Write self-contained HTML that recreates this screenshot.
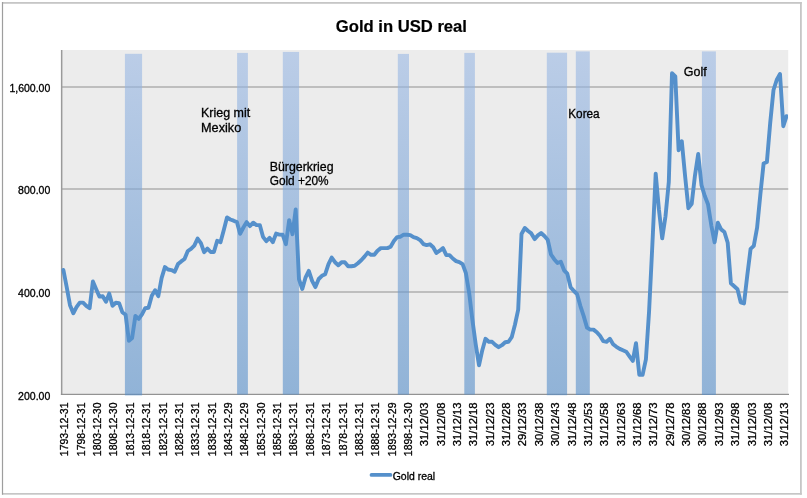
<!DOCTYPE html>
<html lang="de">
<head>
<meta charset="utf-8">
<title>Gold in USD real</title>
<style>
html,body{margin:0;padding:0;background:#fff;}
body{width:807px;height:498px;overflow:hidden;}
svg{display:block;}
text{font-family:"Liberation Sans",sans-serif;fill:#000;stroke:#000;stroke-width:0.3px;}
.ax{font-size:10.5px;}
.an{font-size:12.5px;}
.tt{font-size:17px;font-weight:bold;stroke-width:0.2px;}
</style>
</head>
<body>
<svg width="807" height="498" viewBox="0 0 807 498">
<defs>
<linearGradient id="bg" x1="0" y1="0" x2="0" y2="1">
<stop offset="0" stop-color="rgb(154,184,228)"/>
<stop offset="1" stop-color="rgb(84,141,201)"/>
</linearGradient>
<clipPath id="pc"><rect x="55" y="40" width="733.1" height="360"/></clipPath>
</defs>
<rect x="0" y="0" width="807" height="498" fill="#fff"/>
<!-- chart frame -->
<rect x="2" y="2" width="799.8" height="1.8" fill="#c6c6c6"/>
<rect x="2" y="493" width="799.8" height="1.7" fill="#c6c6c6"/>
<rect x="800" y="2" width="1.8" height="492.7" fill="#c6c6c6"/>
<rect x="1.9" y="2" width="1.2" height="492.7" fill="#9e9e9e"/>
<!-- plot area -->
<rect x="61.8" y="50" width="726.4" height="344" fill="#ececec"/>
<rect x="61.8" y="86" width="726.4" height="2" fill="#bebebe"/>
<rect x="61.8" y="188" width="726.4" height="2" fill="#bebebe"/>
<rect x="61.8" y="291" width="726.4" height="2" fill="#bebebe"/>
<rect x="60.9" y="50" width="1.5" height="344.9" fill="#9a9a9a"/>
<rect x="60.9" y="393.8" width="728.1" height="1.15" fill="#8e8e8e"/>
<rect x="124.9" y="53.8" width="17.2" height="341.6" fill="url(#bg)" fill-opacity="0.6"/>
<rect x="237.1" y="52.9" width="10.8" height="341.7" fill="url(#bg)" fill-opacity="0.6"/>
<rect x="282.8" y="51.9" width="16.3" height="342.7" fill="url(#bg)" fill-opacity="0.6"/>
<rect x="397.8" y="53.9" width="11.2" height="340.7" fill="url(#bg)" fill-opacity="0.6"/>
<rect x="464.3" y="52.9" width="10.6" height="341.7" fill="url(#bg)" fill-opacity="0.6"/>
<rect x="546.8" y="52.7" width="20.3" height="342.5" fill="url(#bg)" fill-opacity="0.6"/>
<rect x="575.8" y="51.4" width="14.0" height="343.6" fill="url(#bg)" fill-opacity="0.6"/>
<rect x="701.9" y="51.4" width="14.0" height="343.6" fill="url(#bg)" fill-opacity="0.6"/>
<polyline clip-path="url(#pc)" fill="none" stroke="#5590cb" stroke-width="3.9" stroke-linejoin="round" stroke-linecap="round" points="63.4,270.0 66.7,287.1 70.0,305.2 73.3,313.3 76.5,307.2 79.8,302.6 83.1,302.6 86.3,305.8 89.6,308.2 92.9,281.5 96.2,289.2 99.4,296.6 102.7,296.2 106.0,301.8 109.2,293.6 112.5,305.8 115.8,302.8 119.1,303.2 122.3,312.2 125.6,314.7 128.9,340.8 132.1,338.0 135.4,315.9 138.7,318.9 142.0,314.3 145.2,308.2 148.5,307.8 151.8,295.8 155.1,290.2 158.3,296.2 161.6,278.1 164.9,267.1 168.1,269.5 171.4,270.1 174.7,271.7 178.0,264.1 181.2,261.4 184.5,259.0 187.8,251.0 191.0,248.8 194.3,245.6 197.6,238.6 200.9,243.2 204.1,252.2 207.4,248.6 210.7,252.0 213.9,252.0 217.2,240.8 220.5,242.2 223.8,230.1 227.0,217.5 230.3,219.5 233.6,220.7 236.9,222.1 240.1,233.8 243.4,227.5 246.7,222.1 249.9,226.1 253.2,222.7 256.5,225.1 259.8,225.1 263.0,236.8 266.3,241.2 269.6,237.8 272.8,242.2 276.1,233.6 279.4,234.6 282.7,234.8 285.9,244.2 289.2,220.1 292.5,234.2 295.7,209.5 299.0,279.3 302.3,289.0 305.6,277.3 308.8,270.9 312.1,280.8 315.4,287.1 318.7,279.0 321.9,275.8 325.2,274.2 328.5,264.2 331.7,257.6 335.0,262.2 338.3,265.2 341.6,262.2 344.8,262.2 348.1,266.2 351.4,266.2 354.6,265.8 357.9,263.2 361.2,260.2 364.5,256.6 367.7,252.6 371.0,254.8 374.3,254.8 377.5,250.7 380.8,248.1 384.1,248.1 387.4,248.1 390.6,246.7 393.9,241.1 397.2,237.1 400.5,236.7 403.7,234.7 407.0,234.7 410.3,235.1 413.5,237.1 416.8,238.1 420.1,240.1 423.4,244.1 426.6,245.1 429.9,244.3 433.2,247.3 436.4,253.0 439.7,250.7 443.0,248.1 446.3,255.1 449.5,255.1 452.8,258.5 456.1,261.1 459.3,262.1 462.6,264.2 465.9,273.2 469.2,293.3 472.4,320.1 475.7,344.2 479.0,365.3 482.3,350.2 485.5,338.8 488.8,341.8 492.1,341.8 495.3,344.8 498.6,347.2 501.9,345.2 505.2,342.2 508.4,341.8 511.7,337.2 515.0,324.5 518.2,309.7 521.5,234.0 524.8,228.0 528.1,231.0 531.3,233.4 534.6,239.1 537.9,235.4 541.1,233.0 544.4,236.0 547.7,239.8 551.0,254.5 554.2,259.2 557.5,263.0 560.8,261.7 564.1,270.3 567.3,273.7 570.6,287.2 573.9,291.0 577.1,294.2 580.4,306.1 583.7,316.1 587.0,327.6 590.2,329.6 593.5,329.6 596.8,332.2 600.0,335.8 603.3,341.2 606.6,341.8 609.9,338.8 613.1,344.2 616.4,346.8 619.7,348.9 622.9,350.3 626.2,351.7 629.5,356.3 632.8,360.9 636.0,343.2 639.3,374.8 642.6,374.8 645.9,359.3 649.1,311.0 652.4,244.0 655.7,173.7 658.9,209.2 662.2,238.4 665.5,216.3 668.8,182.0 672.0,73.2 675.3,76.3 678.6,150.2 681.8,141.3 685.1,176.1 688.4,208.2 691.7,203.8 694.9,176.0 698.2,154.0 701.5,185.1 704.7,195.8 708.0,204.2 711.3,225.3 714.6,242.3 717.8,222.6 721.1,229.4 724.4,232.0 727.7,242.8 730.9,283.3 734.2,286.3 737.5,289.3 740.7,302.3 744.0,303.4 747.3,275.2 750.6,248.8 753.8,245.8 757.1,227.7 760.4,194.0 763.6,163.5 766.9,162.0 770.2,123.0 773.5,90.0 776.7,80.0 780.0,74.0 783.3,126.2 786.5,116.2"/>
<text class="tt" x="335.8" y="31.7" textLength="131.2" lengthAdjust="spacingAndGlyphs">Gold in USD real</text>
<text class="ax" x="9.4" y="91.6" textLength="40.9" lengthAdjust="spacingAndGlyphs">1,600.00</text>
<text class="ax" x="18.1" y="193.8" textLength="32.2" lengthAdjust="spacingAndGlyphs">800.00</text>
<text class="ax" x="18.1" y="296.8" textLength="32.2" lengthAdjust="spacingAndGlyphs">400.00</text>
<text class="ax" x="18.1" y="399.6" textLength="32.2" lengthAdjust="spacingAndGlyphs">200.00</text>
<text class="ax" transform="translate(68.3,456.2) rotate(-90)" textLength="53.7" lengthAdjust="spacingAndGlyphs">1793-12-31</text>
<text class="ax" transform="translate(84.7,456.2) rotate(-90)" textLength="53.7" lengthAdjust="spacingAndGlyphs">1798-12-31</text>
<text class="ax" transform="translate(101.1,456.2) rotate(-90)" textLength="53.7" lengthAdjust="spacingAndGlyphs">1803-12-30</text>
<text class="ax" transform="translate(117.4,456.2) rotate(-90)" textLength="53.7" lengthAdjust="spacingAndGlyphs">1808-12-30</text>
<text class="ax" transform="translate(133.8,456.2) rotate(-90)" textLength="53.7" lengthAdjust="spacingAndGlyphs">1813-12-31</text>
<text class="ax" transform="translate(150.1,456.2) rotate(-90)" textLength="53.7" lengthAdjust="spacingAndGlyphs">1818-12-31</text>
<text class="ax" transform="translate(166.5,456.2) rotate(-90)" textLength="53.7" lengthAdjust="spacingAndGlyphs">1823-12-31</text>
<text class="ax" transform="translate(182.9,456.2) rotate(-90)" textLength="53.7" lengthAdjust="spacingAndGlyphs">1828-12-31</text>
<text class="ax" transform="translate(199.2,456.2) rotate(-90)" textLength="53.7" lengthAdjust="spacingAndGlyphs">1833-12-31</text>
<text class="ax" transform="translate(215.6,456.2) rotate(-90)" textLength="53.7" lengthAdjust="spacingAndGlyphs">1838-12-31</text>
<text class="ax" transform="translate(231.9,456.2) rotate(-90)" textLength="53.7" lengthAdjust="spacingAndGlyphs">1843-12-29</text>
<text class="ax" transform="translate(248.3,456.2) rotate(-90)" textLength="53.7" lengthAdjust="spacingAndGlyphs">1848-12-29</text>
<text class="ax" transform="translate(264.7,456.2) rotate(-90)" textLength="53.7" lengthAdjust="spacingAndGlyphs">1853-12-30</text>
<text class="ax" transform="translate(281.0,456.2) rotate(-90)" textLength="53.7" lengthAdjust="spacingAndGlyphs">1858-12-31</text>
<text class="ax" transform="translate(297.4,456.2) rotate(-90)" textLength="53.7" lengthAdjust="spacingAndGlyphs">1863-12-31</text>
<text class="ax" transform="translate(313.7,456.2) rotate(-90)" textLength="53.7" lengthAdjust="spacingAndGlyphs">1868-12-31</text>
<text class="ax" transform="translate(330.1,456.2) rotate(-90)" textLength="53.7" lengthAdjust="spacingAndGlyphs">1873-12-31</text>
<text class="ax" transform="translate(346.5,456.2) rotate(-90)" textLength="53.7" lengthAdjust="spacingAndGlyphs">1878-12-31</text>
<text class="ax" transform="translate(362.8,456.2) rotate(-90)" textLength="53.7" lengthAdjust="spacingAndGlyphs">1883-12-31</text>
<text class="ax" transform="translate(379.2,456.2) rotate(-90)" textLength="53.7" lengthAdjust="spacingAndGlyphs">1888-12-31</text>
<text class="ax" transform="translate(395.5,456.2) rotate(-90)" textLength="53.7" lengthAdjust="spacingAndGlyphs">1893-12-29</text>
<text class="ax" transform="translate(411.9,456.2) rotate(-90)" textLength="53.7" lengthAdjust="spacingAndGlyphs">1898-12-30</text>
<text class="ax" transform="translate(428.3,446.2) rotate(-90)" textLength="43.7" lengthAdjust="spacingAndGlyphs">31/12/03</text>
<text class="ax" transform="translate(444.6,446.2) rotate(-90)" textLength="43.7" lengthAdjust="spacingAndGlyphs">31/12/08</text>
<text class="ax" transform="translate(461.0,446.2) rotate(-90)" textLength="43.7" lengthAdjust="spacingAndGlyphs">31/12/13</text>
<text class="ax" transform="translate(477.3,446.2) rotate(-90)" textLength="43.7" lengthAdjust="spacingAndGlyphs">31/12/18</text>
<text class="ax" transform="translate(493.7,446.2) rotate(-90)" textLength="43.7" lengthAdjust="spacingAndGlyphs">31/12/23</text>
<text class="ax" transform="translate(510.1,446.2) rotate(-90)" textLength="43.7" lengthAdjust="spacingAndGlyphs">31/12/28</text>
<text class="ax" transform="translate(526.4,446.2) rotate(-90)" textLength="43.7" lengthAdjust="spacingAndGlyphs">29/12/33</text>
<text class="ax" transform="translate(542.8,446.2) rotate(-90)" textLength="43.7" lengthAdjust="spacingAndGlyphs">30/12/38</text>
<text class="ax" transform="translate(559.1,446.2) rotate(-90)" textLength="43.7" lengthAdjust="spacingAndGlyphs">30/12/43</text>
<text class="ax" transform="translate(575.5,446.2) rotate(-90)" textLength="43.7" lengthAdjust="spacingAndGlyphs">31/12/48</text>
<text class="ax" transform="translate(591.9,446.2) rotate(-90)" textLength="43.7" lengthAdjust="spacingAndGlyphs">31/12/53</text>
<text class="ax" transform="translate(608.2,446.2) rotate(-90)" textLength="43.7" lengthAdjust="spacingAndGlyphs">31/12/58</text>
<text class="ax" transform="translate(624.6,446.2) rotate(-90)" textLength="43.7" lengthAdjust="spacingAndGlyphs">31/12/63</text>
<text class="ax" transform="translate(640.9,446.2) rotate(-90)" textLength="43.7" lengthAdjust="spacingAndGlyphs">31/12/68</text>
<text class="ax" transform="translate(657.3,446.2) rotate(-90)" textLength="43.7" lengthAdjust="spacingAndGlyphs">31/12/73</text>
<text class="ax" transform="translate(673.7,446.2) rotate(-90)" textLength="43.7" lengthAdjust="spacingAndGlyphs">29/12/78</text>
<text class="ax" transform="translate(690.0,446.2) rotate(-90)" textLength="43.7" lengthAdjust="spacingAndGlyphs">30/12/83</text>
<text class="ax" transform="translate(706.4,446.2) rotate(-90)" textLength="43.7" lengthAdjust="spacingAndGlyphs">30/12/88</text>
<text class="ax" transform="translate(722.7,446.2) rotate(-90)" textLength="43.7" lengthAdjust="spacingAndGlyphs">31/12/93</text>
<text class="ax" transform="translate(739.1,446.2) rotate(-90)" textLength="43.7" lengthAdjust="spacingAndGlyphs">31/12/98</text>
<text class="ax" transform="translate(755.5,446.2) rotate(-90)" textLength="43.7" lengthAdjust="spacingAndGlyphs">31/12/03</text>
<text class="ax" transform="translate(771.8,446.2) rotate(-90)" textLength="43.7" lengthAdjust="spacingAndGlyphs">31/12/08</text>
<text class="ax" transform="translate(788.2,446.2) rotate(-90)" textLength="43.7" lengthAdjust="spacingAndGlyphs">31/12/13</text>
<text class="an" x="201.0" y="116.7" textLength="49.2" lengthAdjust="spacingAndGlyphs">Krieg mit</text>
<text class="an" x="201.0" y="131.7" textLength="40.2" lengthAdjust="spacingAndGlyphs">Mexiko</text>
<text class="an" x="269.7" y="170.9" textLength="63.9" lengthAdjust="spacingAndGlyphs">Bürgerkrieg</text>
<text class="an" x="269.7" y="185.4" textLength="58.9" lengthAdjust="spacingAndGlyphs">Gold +20%</text>
<text class="an" x="568.2" y="117.7" textLength="31.5" lengthAdjust="spacingAndGlyphs">Korea</text>
<text class="an" x="683.8" y="76.1" textLength="22.9" lengthAdjust="spacingAndGlyphs">Golf</text>
<line x1="371.5" y1="474.9" x2="390.5" y2="474.9" stroke="#5590cb" stroke-width="3.7" stroke-linecap="round"/>
<text class="ax" x="392.7" y="479.8" textLength="42.4" lengthAdjust="spacingAndGlyphs">Gold real</text>
</svg>
</body>
</html>
